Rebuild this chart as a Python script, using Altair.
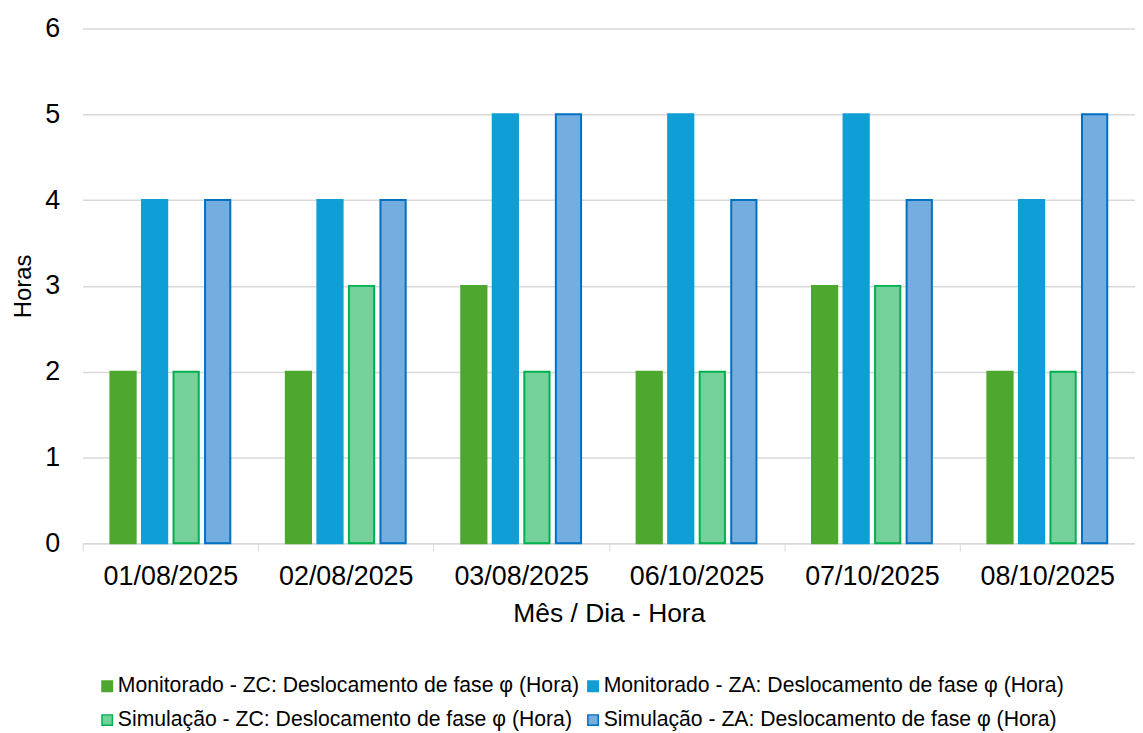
import altair as alt
import pandas as pd

datas = ["01/08/2025", "02/08/2025", "03/08/2025", "06/10/2025", "07/10/2025", "08/10/2025"]
series = [
    "Monitorado - ZC: Deslocamento de fase φ (Hora)",
    "Monitorado - ZA: Deslocamento de fase φ (Hora)",
    "Simulação - ZC: Deslocamento de fase φ (Hora)",
    "Simulação - ZA: Deslocamento de fase φ (Hora)",
]
mon_zc = [2, 2, 3, 2, 3, 2]
mon_za = [4, 4, 5, 5, 5, 4]
sim_zc = [2, 3, 2, 2, 3, 2]
sim_za = [4, 4, 5, 4, 4, 5]

fills = ["#4ea72e", "#0f9ed5", "#74d19a", "#74addf"]
strokes = ["#4ea72e", "#0f9ed5", "#00b050", "#0070c0"]

rows = []
for s, vals in zip(series, [mon_zc, mon_za, sim_zc, sim_za]):
    for d, v in zip(datas, vals):
        rows.append({"Data": d, "Série": s, "Horas": v})
df = pd.DataFrame(rows)

# legend laid out column-major: order so rows read MZC, MZA / SZC, SZA
leg_order = [series[0], series[2], series[1], series[3]]
leg_fills = [fills[0], fills[2], fills[1], fills[3]]
leg_strokes = [strokes[0], strokes[2], strokes[1], strokes[3]]

FONT = "Liberation Sans"

chart = alt.Chart(df).mark_bar(strokeWidth=2).encode(
    x=alt.X("Data:N", sort=datas, title="Mês / Dia - Hora",
            scale=alt.Scale(paddingInner=0, paddingOuter=0),
            axis=alt.Axis(labelAngle=0, labelFontSize=27, titleFontSize=26.5,
                          labelColor="#000000", titleColor="#000000", titleFontWeight="normal",
                          labelFont=FONT, titleFont=FONT, labelPadding=12, titlePadding=12,
                          domainColor="#d9d9d9", tickColor="#d9d9d9", tickSize=8,
                          tickBand="extent", grid=False, domainWidth=1.5)),
    xOffset=alt.XOffset("Série:N", sort=series,
                        scale=alt.Scale(paddingInner=0.2, paddingOuter=0.88)),
    y=alt.Y("Horas:Q", title="Horas", scale=alt.Scale(domain=[0, 6], nice=False),
            axis=alt.Axis(values=[0, 1, 2, 3, 4, 5, 6], labelFontSize=27, titleFontSize=24,
                          labelColor="#000000", titleColor="#000000", titleFontWeight="normal",
                          labelFont=FONT, titleFont=FONT, domain=False, ticks=False,
                          labelPadding=23, titlePadding=9, gridColor="#d9d9d9", gridWidth=1.5)),
    fill=alt.Fill("Série:N", scale=alt.Scale(domain=leg_order, range=leg_fills),
                  legend=alt.Legend(title=None, orient="none", legendX=14, legendY=650,
                                    columns=2, gridAlign="none", symbolType="square",
                                    symbolSize=110, symbolStrokeWidth=1.5, labelFontSize=21.3,
                                    labelFont=FONT, labelColor="#000000", labelLimit=0,
                                    rowPadding=12, columnPadding=3, labelOffset=0)),
    stroke=alt.Stroke("Série:N", scale=alt.Scale(domain=leg_order, range=leg_strokes),
                      legend=None),
).properties(
    width=1057, height=517,
    autosize=alt.AutoSizeParams(type="none"),
    padding={"left": 75, "top": 19, "right": 0, "bottom": 189},
).configure_view(stroke=None)

chart.save("out.html", embed_options={"renderer": "svg", "actions": False})
